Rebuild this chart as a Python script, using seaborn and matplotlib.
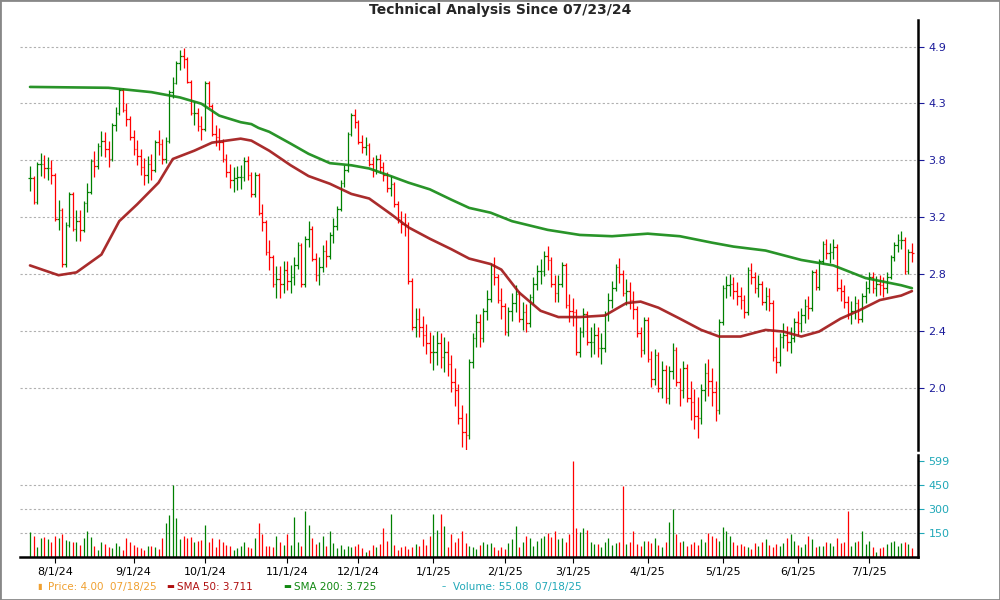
import numpy as np
import pandas as pd
import matplotlib
matplotlib.use("Agg")
import matplotlib.pyplot as plt
import seaborn as sns

# daily closes, by month
jul24 = [3.47, 3.26, 3.60, 3.60, 3.56, 3.56, 3.50]
aug24 = [3.12, 3.19, 2.77, 3.07, 3.33, 3.04, 3.10, 3.03, 3.25, 3.35, 3.63, 3.58, 3.78, 3.83, 3.75, 3.65, 3.99, 4.12, 4.38, 4.15, 4.05, 3.87]
sep24 = [3.75, 3.68, 3.57, 3.50, 3.60, 3.55, 3.82, 3.80, 3.65, 3.83, 4.35, 4.46, 4.70, 4.78, 4.75, 4.47, 4.12, 4.12, 3.98, 3.95]
oct24 = [4.46, 4.20, 3.90, 3.87, 3.82, 3.65, 3.53, 3.45, 3.47, 3.48, 3.48, 3.63, 3.50, 3.33, 3.50, 3.17, 3.09, 2.86, 2.82, 2.63, 2.66, 2.63, 2.73]
nov24 = [2.65, 2.68, 2.76, 2.91, 2.63, 2.96, 3.04, 2.81, 2.69, 2.75, 2.87, 2.83, 2.99, 3.06, 3.20, 3.43, 3.55, 3.90, 4.10, 4.02]
dec24 = [3.82, 3.77, 3.79, 3.60, 3.55, 3.65, 3.57, 3.50, 3.38, 3.42, 3.24, 3.11, 3.08, 3.07, 2.65, 2.35, 2.40, 2.35, 2.30, 2.25, 2.20]
jan25 = [2.20, 2.25, 2.17, 2.20, 2.13, 2.03, 1.99, 1.85, 1.78, 1.77, 2.14, 2.28, 2.38, 2.28, 2.45, 2.53, 2.76, 2.68, 2.52, 2.48]
feb25 = [2.32, 2.45, 2.50, 2.56, 2.40, 2.44, 2.37, 2.54, 2.63, 2.72, 2.72, 2.83, 2.80, 2.63, 2.57, 2.63, 2.76, 2.49, 2.45]
mar25 = [2.44, 2.20, 2.32, 2.43, 2.26, 2.26, 2.30, 2.22, 2.22, 2.43, 2.52, 2.60, 2.75, 2.70, 2.57, 2.58, 2.52, 2.46, 2.31, 2.21, 2.39]
apr25 = [2.16, 2.05, 2.18, 2.00, 2.10, 1.95, 2.09, 2.21, 2.03, 1.99, 2.11, 1.95, 1.93, 1.86, 1.85, 1.99, 2.08, 2.04, 1.98, 1.89, 2.38]
may25 = [2.60, 2.62, 2.63, 2.58, 2.55, 2.52, 2.44, 2.73, 2.68, 2.60, 2.63, 2.51, 2.55, 2.50, 2.17, 2.14, 2.29, 2.30, 2.26, 2.28, 2.38]
jun25 = [2.37, 2.42, 2.48, 2.47, 2.71, 2.61, 2.79, 2.92, 2.85, 2.86, 2.90, 2.60, 2.58, 2.51, 2.43, 2.45, 2.50, 2.40, 2.55, 2.60]
jul25 = [2.68, 2.60, 2.63, 2.62, 2.60, 2.68, 2.82, 2.91, 2.95, 2.95, 2.72, 2.86, 2.85]

# daily volume (thousands), by month
vjul24 = [155, 130, 60, 120, 125, 110, 95]
vaug24 = [130, 120, 140, 105, 100, 90, 95, 75, 120, 160, 125, 70, 40, 95, 80, 60, 55, 85, 65, 40, 120, 95]
vsep24 = [75, 60, 55, 45, 70, 70, 60, 50, 120, 210, 260, 450, 240, 110, 130, 115, 125, 95, 100, 105]
voct24 = [200, 95, 120, 60, 110, 90, 75, 70, 45, 55, 70, 90, 60, 55, 120, 210, 145, 65, 70, 60, 130, 90, 75]
vnov24 = [140, 75, 250, 90, 70, 285, 200, 120, 80, 95, 130, 70, 160, 85, 55, 75, 50, 65, 60, 70]
vdec24 = [80, 55, 30, 45, 75, 60, 80, 180, 100, 265, 75, 45, 60, 70, 50, 60, 80, 70, 110, 75, 130]
vjan25 = [265, 165, 265, 195, 60, 140, 90, 120, 160, 85, 70, 60, 50, 75, 90, 80, 85, 60, 45, 60]
vfeb25 = [50, 85, 110, 190, 60, 95, 130, 120, 70, 100, 115, 130, 150, 125, 160, 110, 120, 90, 140]
vmar25 = [599, 180, 155, 180, 170, 90, 80, 80, 60, 95, 120, 75, 85, 90, 440, 80, 90, 160, 80, 70, 100]
vapr25 = [100, 85, 120, 75, 60, 95, 215, 300, 145, 90, 100, 65, 80, 90, 75, 110, 95, 150, 130, 120, 100]
vmay25 = [185, 160, 130, 90, 75, 80, 70, 60, 50, 85, 65, 90, 110, 75, 60, 80, 70, 85, 120, 140, 100]
vjun25 = [75, 60, 80, 130, 110, 60, 65, 70, 90, 85, 70, 115, 85, 90, 285, 70, 90, 100, 160, 80]
vjul25 = [100, 60, 30, 55, 60, 80, 90, 100, 70, 85, 95, 80, 55]

# typical high-low span per month
month_span = [0.22, 0.25, 0.25, 0.22, 0.20, 0.18, 0.20, 0.18, 0.18, 0.20, 0.15, 0.15, 0.14]

month_labels = ["8/1/24", "9/1/24", "10/1/24", "11/1/24", "12/1/24", "1/1/25", "2/1/25",
                "3/1/25", "4/1/25", "5/1/25", "6/1/25", "7/1/25"]

# moving averages read at trading-day numbers
sma200_day = [0, 22, 34, 42, 48, 53, 59, 62, 64, 67, 73, 78, 84, 90, 95, 101, 106, 112, 118, 123,
              129, 135, 145, 154, 163, 173, 182, 191, 197, 206, 216, 225, 234, 244, 247]
sma200_val = [4.41, 4.40, 4.35, 4.29, 4.22, 4.09, 4.02, 4.00, 3.96, 3.92, 3.80, 3.70, 3.61, 3.59, 3.56,
              3.49, 3.43, 3.37, 3.28, 3.21, 3.17, 3.10, 3.03, 2.99, 2.98, 3.00, 2.98, 2.93, 2.90, 2.87,
              2.80, 2.76, 2.67, 2.62, 2.60]
sma50_day = [0, 8, 13, 20, 25, 30, 36, 40, 46, 51, 59, 62, 67, 73, 78, 84, 90, 95, 101, 106, 112, 118,
             123, 129, 132, 137, 143, 148, 154, 161, 167, 171, 176, 182, 188, 193, 199, 206, 211, 216,
             221, 227, 232, 238, 244, 247]
sma50_val = [2.76, 2.69, 2.71, 2.84, 3.10, 3.24, 3.43, 3.65, 3.73, 3.81, 3.85, 3.83, 3.73, 3.59, 3.49,
             3.42, 3.33, 3.29, 3.16, 3.05, 2.96, 2.88, 2.81, 2.77, 2.73, 2.57, 2.45, 2.41, 2.41, 2.42,
             2.50, 2.51, 2.47, 2.40, 2.33, 2.29, 2.29, 2.33, 2.32, 2.29, 2.32, 2.40, 2.45, 2.52, 2.55, 2.58]

price_ticks = ["2.0", "2.4", "2.8", "3.2", "3.8", "4.3", "4.9"]

months = [jul24, aug24, sep24, oct24, nov24, dec24, jan25, feb25, mar25, apr25, may25, jun25, jul25]
vmonths = [vjul24, vaug24, vsep24, voct24, vnov24, vdec24, vjan25, vfeb25, vmar25, vapr25, vmay25, vjun25, vjul25]

close = np.concatenate(months)
volume = np.concatenate(vmonths)
span = np.concatenate([[s] * len(m) for s, m in zip(month_span, months)])
n = len(close)
day = np.arange(n)
opn = np.r_[close[0], close[:-1]]
body = np.abs(close - opn)
extra = np.maximum(span - body, 0.04) / 2
high = np.maximum(opn, close) + extra
low = np.minimum(opn, close) - extra
up = close >= opn
colors = np.where(up, "#008000", "#ff0000")
month_start = np.cumsum([len(m) for m in months])[:-1]

sns.set_style("white")
fig = plt.figure(figsize=(10, 6), dpi=100)
ax = fig.add_axes([0.02, 0.25, 0.898, 0.717])
axv = fig.add_axes([0.02, 0.072, 0.898, 0.17], sharex=ax)

# price bars
ax.vlines(day, low, high, colors=colors, lw=0.9)
ax.hlines(opn, day - 0.45, day, colors=colors, lw=0.9)
ax.hlines(close, day, day + 0.45, colors=colors, lw=0.9)

sma = pd.DataFrame({"day": sma50_day + sma200_day,
                    "val": sma50_val + sma200_val,
                    "kind": ["SMA 50"] * len(sma50_day) + ["SMA 200"] * len(sma200_day)})
sns.lineplot(data=sma, x="day", y="val", hue="kind", ax=ax, legend=False,
             palette={"SMA 50": "#a01515", "SMA 200": "#118811"}, lw=1.9, alpha=0.9)

ax.set_yscale("log")
tick_pos = 2.0 * 1.1612 ** np.arange(7)
ax.set_yticks(tick_pos)
ax.set_yticklabels(price_ticks)
ax.yaxis.set_minor_locator(matplotlib.ticker.NullLocator())
ax.set_ylim(1.70, 5.26)
ax.set_xlim(-2.8, n - 1 + 1.7)
ax.yaxis.tick_right()
ax.tick_params(axis="y", colors="#1a1a9a", labelsize=8, length=4, direction="out")
ax.tick_params(axis="x", bottom=False, labelbottom=False)
ax.yaxis.grid(True, ls=(0, (2, 2)), color="#b0b0b0", lw=0.8)
ax.set_xlabel("")
ax.set_ylabel("")
for side in ["left", "top", "bottom"]:
    ax.spines[side].set_visible(False)
ax.spines["right"].set_linewidth(1.8)
ax.spines["right"].set_color("black")

# volume bars
axv.vlines(day, 0, volume, colors=colors, lw=0.9)
axv.set_ylim(0, 636)
axv.yaxis.tick_right()
axv.set_yticks([150, 300, 450, 599])
axv.set_yticklabels(["150", "300", "450", "599"])
axv.tick_params(axis="y", colors="#20a8b8", labelsize=8, length=4)
for y in [150, 300, 450]:
    axv.axhline(y, ls=(0, (2, 2)), color="#b0b0b0", lw=0.8, zorder=0)
axv.set_xticks(month_start)
axv.set_xticklabels(month_labels)
axv.tick_params(axis="x", labelsize=8, length=4, bottom=True, colors="black")
for side in ["left", "top"]:
    axv.spines[side].set_visible(False)
axv.spines["right"].set_linewidth(1.8)
axv.spines["bottom"].set_linewidth(1.8)
axv.spines["right"].set_color("black")
axv.spines["bottom"].set_color("black")

fig.suptitle("Technical Analysis Since 07/23/24", y=0.995, fontsize=10, fontweight="bold")

legend_items = [(0.037, "\u25ae", "Price: 4.00  07/18/25", "#f0a030"),
                (0.166, "\u25ac", "SMA 50: 3.711", "#b01010"),
                (0.283, "\u25ac", "SMA 200: 3.725", "#118811"),
                (0.442, "\u2013", "Volume: 55.08  07/18/25", "#20a8b8")]
for xpos, mark, label, col in legend_items:
    fig.text(xpos, 0.022, mark, color=col, fontsize=6, va="center")
    fig.text(xpos + 0.011, 0.022, label, color=col, fontsize=7.5, va="center")

fig.patches.append(plt.Rectangle((0, 0), 1, 1, transform=fig.transFigure, fill=False,
                                 edgecolor="#888888", lw=2))
fig.savefig("out.png", dpi=100)
